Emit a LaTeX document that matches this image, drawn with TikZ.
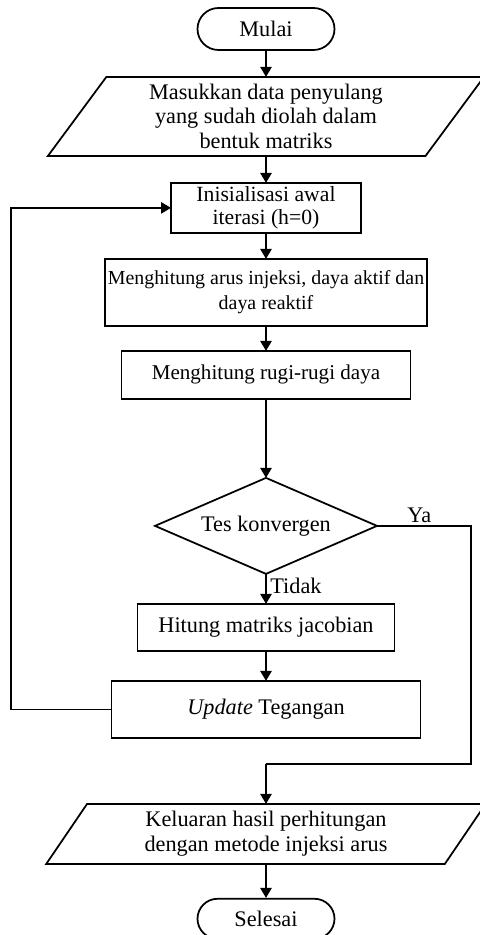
\documentclass[tikz,border=0pt]{standalone}
\usepackage{fontspec}
\setmainfont{Liberation Serif}
\usetikzlibrary{shapes.geometric, shapes.misc, arrows.meta, positioning}
\tikzstyle{term_node} = [rounded rectangle, draw=black, line width=1.5pt, minimum width=4.11cm, minimum height=1.26cm, inner sep=0pt]
\tikzstyle{io_node} = [trapezium, trapezium stretches=true, draw=black, line width=1.5pt, align=center, inner sep=0pt, outer sep=0pt]
\tikzstyle{proc_node} = [rectangle, draw=black, line width=1.5pt, align=center, inner sep=0pt, outer sep=0pt]
\tikzstyle{test_node} = [diamond, aspect=2.3, draw=black, line width=1.5pt, inner sep=0pt, outer sep=0pt, minimum width=6.66cm, minimum height=2.88cm]
\tikzstyle{flow_arrow} = [line width=1.5pt, -{Triangle[length=3mm, width=3.4mm]}]
\tikzstyle{flow_line} = [line width=1.5pt]

\begin{document}
\begin{tikzpicture}[font=\fontsize{19pt}{21pt}\selectfont]
\useasboundingbox (0,0) rectangle (14.37,28.05);

\node (start) [term_node] at (7.98,27.18) {Mulai};
\node (input_data) [io_node, trapezium left angle=56.6, trapezium right angle=123.4, minimum width=13.11cm, minimum height=2.37cm, below=0.78cm of start] {Masukkan data penyulang\\yang sudah diolah dalam\\bentuk matriks};
\node (init) [proc_node, font=\fontsize{18.5pt}{20pt}\selectfont, minimum width=5.7cm, minimum height=1.5cm, below=0.81cm of input_data] {Inisialisasi awal\\iterasi (h=0)};
\node (arus) [proc_node, font=\fontsize{17pt}{21pt}\selectfont, minimum width=9.66cm, minimum height=2.01cm, below=0.78cm of init] {Menghitung arus injeksi, daya aktif dan\\daya reaktif};
\node (rugi) [proc_node, font=\fontsize{18pt}{21pt}\selectfont, minimum width=8.67cm, minimum height=1.44cm, below=0.75cm of arus] {Menghitung rugi-rugi daya};
\node (test) [test_node, below=2.37cm of rugi] {Tes konvergen};
\node (jacobian) [proc_node, minimum width=7.71cm, minimum height=1.41cm, below=0.9cm of test] {Hitung matriks jacobian};
\node (update) [proc_node, minimum width=9.27cm, minimum height=1.71cm, below=0.9cm of jacobian] {\textit{Update} Tegangan};
\node (output) [io_node, trapezium left angle=58.3, trapezium right angle=121.7, minimum width=13.2cm, minimum height=1.8cm, below=1.98cm of update] {Keluaran hasil perhitungan\\dengan metode injeksi arus};
\node (stop) [term_node, minimum height=1.2cm, below=1.02cm of output] {Selesai};

\coordinate (loop_x) at (0.33,0);
\coordinate (ya_x) at (14.13,0);
\path (output.north) ++(0,1.2) coordinate (merge);

\draw [flow_arrow] (start) -- (input_data);
\draw [flow_arrow] (input_data) -- (init);
\draw [flow_arrow] (init) -- (arus);
\draw [flow_arrow] (arus) -- (rugi);
\draw [flow_arrow] (rugi) -- (test);
\draw [flow_arrow] (test) -- node[right, pos=0.4, inner sep=3pt] {Tidak} (jacobian);
\draw [flow_arrow] (jacobian) -- (update);
\draw [flow_arrow] (update.west) -- (update.west -| loop_x) |- (init.west);
\draw [flow_line] (test.east) -- node[above, pos=0.45, inner sep=2pt] {Ya} (test.east -| ya_x) |- (merge);
\draw [flow_arrow] (merge) -- (output);
\draw [flow_arrow] (output) -- (stop);
\end{tikzpicture}
\end{document}
